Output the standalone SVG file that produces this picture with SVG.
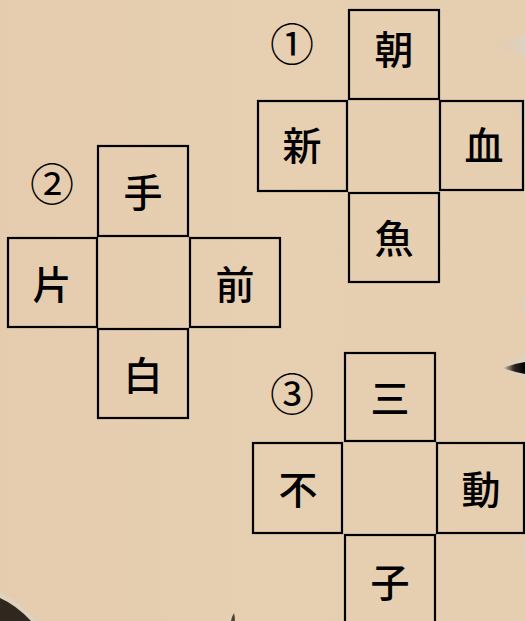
<svg xmlns="http://www.w3.org/2000/svg" width="525" height="621" viewBox="0 0 525 621">
<defs>
<style>
.cell{fill:none;stroke:#000;stroke-width:2.2}
.k{font-family:"Noto Sans CJK JP","Noto Sans CJK SC",sans-serif;font-size:39px;font-weight:500;fill:#000;text-anchor:middle;dominant-baseline:central}
.n{font-family:"Noto Sans CJK JP","Noto Sans CJK SC",sans-serif;font-size:44px;fill:#000;text-anchor:middle;dominant-baseline:central}
</style>
<linearGradient id="bg" x1="0" y1="0" x2="1" y2="0">
<stop offset="0" stop-color="#e5ccaf"/>
<stop offset="0.5" stop-color="#e7cfb1"/>
<stop offset="1" stop-color="#e6ceb1"/>
</linearGradient>
<linearGradient id="br" x1="0" y1="0" x2="1" y2="0">
<stop offset="0" stop-color="#1a1410" stop-opacity="0"/>
<stop offset="0.5" stop-color="#1a1410" stop-opacity="0.9"/>
<stop offset="1" stop-color="#000"/>
</linearGradient>
<linearGradient id="brl" x1="0" y1="0" x2="1" y2="0">
<stop offset="0" stop-color="#d6cabb" stop-opacity="0"/>
<stop offset="1" stop-color="#dcd3c6" stop-opacity="0.8"/>
</linearGradient>
</defs>
<rect width="525" height="621" fill="url(#bg)"/>
<g id="brush">
<path d="M494,48 Q508,42 525,34 L525,56 Q510,51 494,48 Z" fill="url(#brl)"/>
<path d="M512,112 Q518,106 525,102 L525,120 Q518,116 512,112 Z" fill="url(#brl)"/>
<path d="M500,370 Q510,362 525,354 L525,378 Q512,374 500,370 Z" fill="url(#brl)"/>
<path d="M503,368 Q513,364 525,362 L525,374 Q513,372 503,368 Z" fill="url(#br)"/>
<path d="M519,305 Q521,300 525,297 L525,316 Q521,311 519,305 Z" fill="url(#brl)"/>
<path d="M521,548 Q523,543 525,540 L525,560 Q522,555 521,548 Z" fill="url(#brl)"/>
<path d="M0,592 Q18,600 36,621 L30,621 Q14,604 0,598 Z" fill="#dcd4c8" opacity="0.7"/>
<path d="M0,598 Q16,605 31,621 L0,621 Z" fill="#1c1610" opacity="0.9"/>
<path d="M231,621 Q232,616 234,613 Q235,617 235,621 Z" fill="#2a2018" opacity="0.8"/>
</g>
<g id="puzzle1">
<text class="n" x="292" y="42">①</text>
<g id="p1-top"><rect class="cell" x="349" y="10" width="90" height="89"/><text class="k" x="394" y="47">朝</text></g>
<g id="p1-left"><rect class="cell" x="258" y="101" width="89" height="90"/><text class="k" x="302" y="143">新</text></g>
<g id="p1-center"><rect x="348" y="100" width="91" height="92" fill="none"/></g>
<g id="p1-right"><rect class="cell" x="440" y="101" width="83" height="89"/><text class="k" x="484" y="143">血</text></g>
<g id="p1-bottom"><rect class="cell" x="349" y="193" width="90" height="89"/><text class="k" x="394" y="236">魚</text></g>
</g>
<g id="puzzle2">
<text class="n" x="52" y="182">②</text>
<g id="p2-top"><rect class="cell" x="98" y="146" width="90" height="90"/><text class="k" x="143" y="190">手</text></g>
<g id="p2-left"><rect class="cell" x="8" y="238" width="89" height="89"/><text class="k" x="52" y="282">片</text></g>
<g id="p2-center"><rect x="97" y="237" width="93" height="91" fill="none"/></g>
<g id="p2-right"><rect class="cell" x="190" y="238" width="90" height="89"/><text class="k" x="235" y="282">前</text></g>
<g id="p2-bottom"><rect class="cell" x="98" y="329" width="90" height="89"/><text class="k" x="143" y="373">白</text></g>
</g>
<g id="puzzle3">
<text class="n" x="292" y="392">③</text>
<g id="p3-top"><rect class="cell" x="345" y="353" width="90" height="88"/><text class="k" x="390" y="396">三</text></g>
<g id="p3-left"><rect class="cell" x="253" y="443" width="89" height="90"/><text class="k" x="298" y="487">不</text></g>
<g id="p3-center"><rect x="342" y="442" width="95" height="92" fill="none"/></g>
<g id="p3-right"><rect class="cell" x="437" y="443" width="87" height="90"/><text class="k" x="481" y="487">動</text></g>
<g id="p3-bottom"><rect class="cell" x="345" y="535" width="90" height="95"/><text class="k" x="390" y="580">子</text></g>
</g>
</svg>
